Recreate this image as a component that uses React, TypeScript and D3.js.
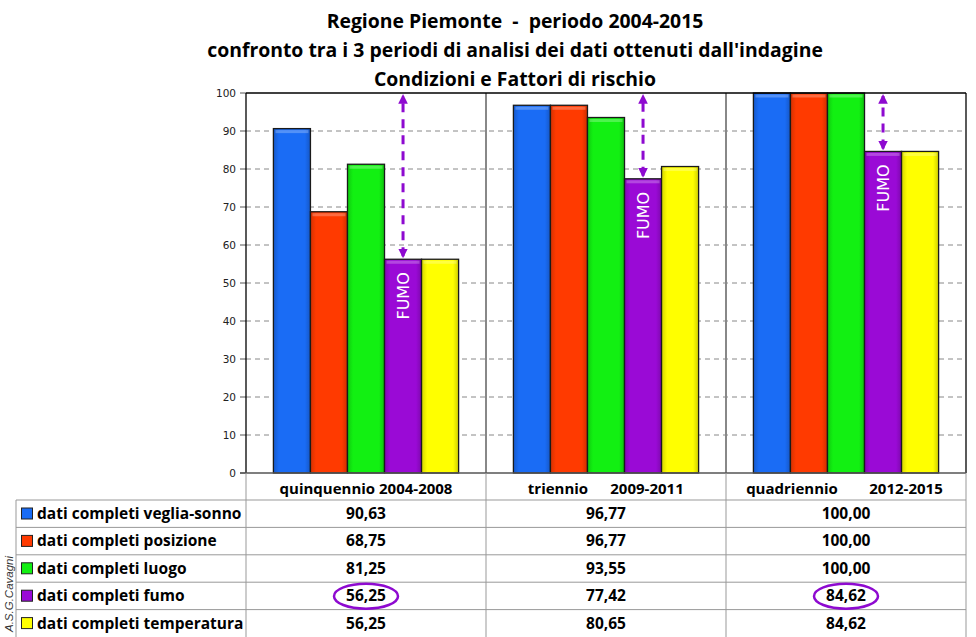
import React from "react";
import * as d3 from "d3";

const periods = ["quinquennio 2004-2008", "triennio 2009-2011", "quadriennio 2012-2015"];
const periodLeft = ["quinquennio", "triennio", "quadriennio"];
const periodRight = ["2004-2008", "2009-2011", "2012-2015"];
const seriesNames = [
  "dati completi veglia-sonno",
  "dati completi posizione",
  "dati completi luogo",
  "dati completi fumo",
  "dati completi temperatura",
];
const seriesColors = ["#1a6cf5", "#ff3a00", "#12f012", "#9a0ad6", "#ffff00"];
const vegliaSonno = [90.63, 96.77, 100.0];
const posizione = [68.75, 96.77, 100.0];
const luogo = [81.25, 93.55, 100.0];
const fumo = [56.25, 77.42, 84.62];
const temperatura = [56.25, 80.65, 84.62];
const seriesValues = [vegliaSonno, posizione, luogo, fumo, temperatura];
const yTicks = [0, 10, 20, 30, 40, 50, 60, 70, 80, 90, 100];
const circled = [true, false, true];
const titleLines = [
  "Regione Piemonte  -  periodo 2004-2015",
  "confronto tra i 3 periodi di analisi dei dati ottenuti dall'indagine",
  "Condizioni e Fattori di rischio",
];

const W = 976;
const H = 637;
const plotL = 246;
const plotR = 966;
const plotT = 93;
const plotB = 473;
const tableL = 16;
const headerB = 500;
const rowH = 27.4;
const FONT = "'Open Sans', Lato, sans-serif";

const fmt = (v: number) => v.toFixed(2).replace(".", ",");

export default function App() {
  const x = d3.scaleBand<string>().domain(periods).range([plotL, plotR]).paddingInner(0).paddingOuter(0);
  const xi = d3
    .scaleBand<string>()
    .domain(seriesNames)
    .range([0, x.bandwidth()])
    .paddingInner(0)
    .paddingOuter(0.74);
  const y = d3.scaleLinear().domain([0, 100]).range([plotB, plotT]);
  const bw = xi.bandwidth();

  return (
    <svg width={W} height={H} style={{ position: "absolute", left: 0, top: 0, background: "#fff" }}>
      <defs>
        {seriesColors.map((c, i) => (
          <linearGradient key={i} id={`g${i}`} x1="0" x2="1" y1="0" y2="0">
            <stop offset="0" stopColor={d3.color(c)!.darker(0.5).toString()} />
            <stop offset="0.15" stopColor={c} />
            <stop offset="0.85" stopColor={c} />
            <stop offset="1" stopColor={d3.color(c)!.darker(0.6).toString()} />
          </linearGradient>
        ))}
        <marker id="ah" viewBox="0 0 10 10" refX="8" refY="5" markerWidth="3.2" markerHeight="3.2" orient="auto-start-reverse">
          <path d="M0,0 L10,5 L0,10 z" fill="#8e0ad0" />
        </marker>
      </defs>

      {/* Title */}
      {titleLines.map((t, i) => (
        <text
          key={i}
          x={515}
          y={28 + i * 29}
          textAnchor="middle"
          fontFamily={FONT}
          fontWeight="bold"
          fontSize={19.4}
          fill="#000"
          style={{ whiteSpace: "pre" }}
        >
          {t}
        </text>
      ))}

      {/* Gridlines */}
      {yTicks.filter((t) => t > 0 && t < 100).map((t) => (
        <line key={t} x1={plotL} x2={plotR} y1={y(t)} y2={y(t)} stroke="#888" strokeDasharray="5,4" strokeWidth={1} />
      ))}

      {/* Y ticks and labels */}
      {yTicks.map((t) => (
        <g key={t}>
          <line x1={plotL - 6} x2={plotL} y1={y(t)} y2={y(t)} stroke="#555" />
          <text x={plotL - 10} y={y(t) + 4} textAnchor="end" fontFamily="'DejaVu Sans', sans-serif" fontSize={10.5} fill="#222">
            {t}
          </text>
        </g>
      ))}

      {/* Category separators */}
      {periods.slice(1).map((p) => (
        <line key={p} x1={x(p)!} x2={x(p)!} y1={plotT} y2={plotB} stroke="#888" strokeWidth={2} />
      ))}

      {/* Bars */}
      {periods.map((p, pi) =>
        seriesNames.map((s, si) => {
          const v = seriesValues[si][pi];
          const bx = x(p)! + xi(s)!;
          const by = y(v);
          return (
            <g key={p + s}>
              <rect x={bx} y={by} width={bw} height={plotB - by} fill={`url(#g${si})`} stroke="#1a1a1a" strokeWidth={1.3} />
              <rect x={bx + 2} y={by + 1.5} width={bw - 4} height={3} fill="#fff" opacity={0.25} />
            </g>
          );
        })
      )}

      {/* Plot frame */}
      <line x1={plotL} x2={plotR} y1={plotT} y2={plotT} stroke="#000" strokeWidth={1.3} />
      <line x1={plotL} x2={plotL} y1={plotT} y2={plotB} stroke="#000" strokeWidth={1.3} />
      <line x1={plotR} x2={plotR} y1={plotT} y2={plotB} stroke="#000" strokeWidth={1.3} />
      <line x1={plotL - 6} x2={plotR} y1={plotB} y2={plotB} stroke="#555" strokeWidth={1.3} />

      {/* FUMO arrows and labels */}
      {periods.map((p, pi) => {
        const cx = x(p)! + xi(seriesNames[3])! + bw / 2;
        const top = y(fumo[pi]);
        return (
          <g key={"f" + p}>
            <line
              x1={cx}
              x2={cx}
              y1={top - 3}
              y2={plotT + 3}
              stroke="#8e0ad0"
              strokeWidth={3}
              strokeDasharray="9,7"
              markerStart="url(#ah)"
              markerEnd="url(#ah)"
            />
            <text
              transform={`translate(${cx + 6},${top + 13}) rotate(-90)`}
              textAnchor="end"
              fontFamily="'DejaVu Sans', sans-serif"
              fontSize={16}
              fill="#fff"
            >
              FUMO
            </text>
          </g>
        );
      })}

      {/* Table grid */}
      <g stroke="#999" strokeWidth={1}>
        {[plotL, ...periods.map((p) => x(p)! + x.bandwidth())].map((xx, i) => (
          <line key={"v" + i} x1={xx} x2={xx} y1={plotB} y2={H} />
        ))}
        <line x1={tableL} x2={tableL} y1={headerB} y2={H} />
        {seriesNames.map((s, i) => (
          <line key={"h" + s} x1={tableL} x2={plotR} y1={headerB + i * rowH} y2={headerB + i * rowH} />
        ))}
      </g>

      {/* Header labels */}
      {periods.map((p, pi) => {
        const c = x(p)! + x.bandwidth() / 2;
        if (pi === 0) {
          return (
            <text key={p} x={c} y={494} textAnchor="middle" fontFamily={FONT} fontWeight="bold" fontSize={15} fill="#000">
              {p}
            </text>
          );
        }
        const dl = pi === 1 ? -48 : -54;
        const dr = pi === 1 ? 41 : 60;
        return (
          <g key={p}>
            <text x={c + dl} y={494} textAnchor="middle" fontFamily={FONT} fontWeight="bold" fontSize={15} fill="#000">
              {periodLeft[pi]}
            </text>
            <text x={c + dr} y={494} textAnchor="middle" fontFamily={FONT} fontWeight="bold" fontSize={15} fill="#000">
              {periodRight[pi]}
            </text>
          </g>
        );
      })}

      {/* Table rows */}
      {seriesNames.map((s, si) => {
        const ry = headerB + si * rowH;
        return (
          <g key={"r" + s}>
            <rect x={21.5} y={ry + 8} width={11} height={11} fill={seriesColors[si]} stroke="#222" strokeWidth={1} />
            <text x={37} y={ry + 19} fontFamily={FONT} fontWeight="bold" fontSize={15.5} fill="#000">
              {s}
            </text>
            {periods.map((p, pi) => (
              <text
                key={p}
                x={x(p)! + x.bandwidth() / 2}
                y={ry + 19}
                textAnchor="middle"
                fontFamily={FONT}
                fontWeight="bold"
                fontSize={15.5}
                fill="#000"
              >
                {fmt(seriesValues[si][pi])}
              </text>
            ))}
          </g>
        );
      })}

      {/* Circles on fumo row */}
      {periods.map((p, pi) =>
        circled[pi] ? (
          <ellipse
            key={"e" + p}
            cx={x(p)! + x.bandwidth() / 2}
            cy={headerB + 3 * rowH + 14}
            rx={32}
            ry={12.5}
            fill="none"
            stroke="#8e0ad0"
            strokeWidth={2.5}
          />
        ) : null
      )}

      {/* Credit */}
      <text
        transform="translate(13,632) rotate(-90)"
        fontFamily="'Liberation Sans', sans-serif"
        fontStyle="italic"
        fontSize={11.5}
        fill="#333"
      >
        A.S.G.Cavagni
      </text>
    </svg>
  );
}
